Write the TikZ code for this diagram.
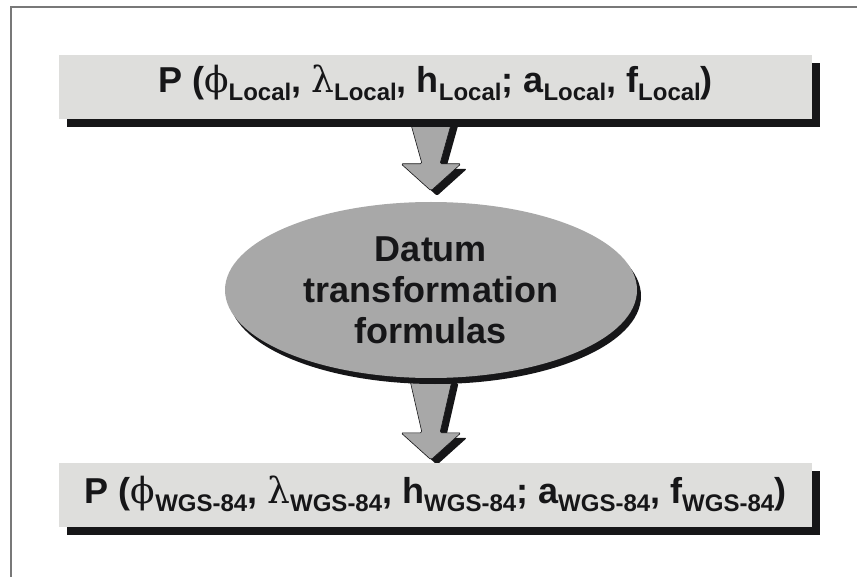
\documentclass[tikz,border=0pt]{standalone}
\usepackage{fontspec}
\setmainfont{Liberation Sans}
\newfontfamily\grk{DejaVu Serif}
\usetikzlibrary{shapes.geometric,shadows,calc,backgrounds}

\definecolor{boxgray}{RGB}{222,222,220}
\definecolor{midgray}{RGB}{168,168,168}
\definecolor{shade}{RGB}{22,22,24}
\definecolor{framegray}{RGB}{120,120,120}

% lowered index after a symbol
\newcommand{\lsub}[1]{\raisebox{-8pt}{\fontsize{24}{24}\selectfont #1}}
% one coordinate tuple, set on a fixed baseline
\newcommand{\tuple}[2]{\raisebox{#1}[0pt][0pt]{#2}}

\tikzset{
  coordbox/.style={fill=boxgray, minimum width=753pt, minimum height=64pt, inner sep=0pt,
    text=shade, font=\fontsize{36}{36}\selectfont\bfseries,
    drop shadow={shadow xshift=8pt, shadow yshift=-8pt, fill=shade, opacity=1}},
  formula/.style={ellipse, fill=midgray, minimum width=412pt, minimum height=176pt, inner sep=0pt,
    align=center, text=shade, font=\fontsize{36}{41}\selectfont\bfseries,
    drop shadow={shadow xshift=4pt, shadow yshift=-6pt, fill=shade, opacity=1}},
  arrowbody/.style={fill=midgray, draw=shade, line width=0.6pt, rounded corners=1.5pt, line join=round},
  arrowshadow/.style={fill=shade, rounded corners=1.5pt},
}

% thick block arrow: tapered shaft, head 27pt high
\newcommand{\fatarrow}[2]{%
  \fill[arrowshadow] let \p1=(#1), \p2=(#2) in
    (\x1-15.5pt,\y1-5pt) -- (\x1+27.5pt,\y1-5pt) -- (\x1+15pt,\y2+22pt) -- (\x1+36pt,\y2+22pt)
    -- (\x1+6pt,\y2-5pt) -- (\x1-24pt,\y2+22pt) -- (\x1-3pt,\y2+22pt) -- cycle;
  \filldraw[arrowbody] let \p1=(#1), \p2=(#2) in
    (\x1-21.5pt,\y1) -- (\x1+21.5pt,\y1) -- (\x1+9pt,\y2+27pt) -- (\x1+30pt,\y2+27pt)
    -- (\x1,\y2) -- (\x1-30pt,\y2+27pt) -- (\x1-9pt,\y2+27pt) -- cycle;
}

\begin{document}
\begin{tikzpicture}[x=1pt,y=-1pt]
  \useasboundingbox (0,0) rectangle (857,577);
  \draw[framegray, line width=2pt] (11,577) -- (11,7) -- (857,7);

  \node[coordbox] (local) at (435.5,87)
    {\tuple{-6pt}{P ({\mdseries\grk ϕ}\lsub{Local}, {\mdseries\grk λ}\lsub{Local}, h\lsub{Local};
     a\lsub{Local}, f\lsub{Local})}};
  \node[formula] (datum) at (431,290) {Datum\\transformation\\formulas};
  \node[coordbox] (wgs) at (435.5,495)
    {\tuple{-8pt}{P ({\mdseries\grk ϕ}\lsub{WGS-84}, {\mdseries\grk λ}\lsub{WGS-84}, h\lsub{WGS-84};
     a\lsub{WGS-84}, f\lsub{WGS-84})}};

  \coordinate (tip1) at ([yshift=11pt]datum.north);
  \coordinate (tip2) at ([yshift=3pt]wgs.north);

  \begin{pgfonlayer}{background}
    \fatarrow{local.south -| datum.center}{tip1}
    \fatarrow{datum.south}{tip2}
  \end{pgfonlayer}
\end{tikzpicture}
\end{document}
